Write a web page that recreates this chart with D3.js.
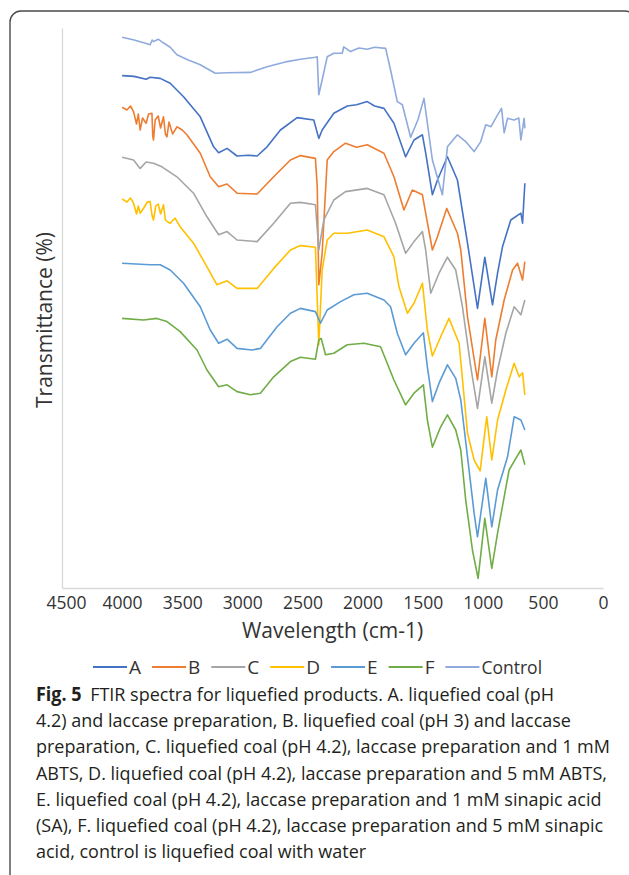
<!DOCTYPE html>
<html>
<head>
<meta charset="utf-8">
<script src="https://cdn.jsdelivr.net/npm/d3@7"></script>
<style>
    body { margin: 0; background: #fff; }
    #chart { width: 629px; height: 875px; }
</style>
</head>
<body>
<div id="chart"></div>
<script>
// [wavenumber (cm-1), transmittance as plotted (curves stacked with offsets)]
const seriesA = [[4000,128.1],[3900,127.9],[3800,127.2],[3767,127.7],[3683,127.4],[3600,126.2],[3489,122.8],[3350,117.8],[3239,110.3],[3197,108.8],[3127,109.9],[3044,108.0],[2950,108.2],[2877,108.0],[2794,110.3],[2683,114.5],[2544,117.6],[2406,117.0],[2364,112.4],[2336,114.5],[2239,118.7],[2127,120.5],[2050,120.8],[1961,121.6],[1900,120.5],[1822,119.9],[1739,116.2],[1642,107.8],[1572,112.0],[1502,113.3],[1475,108.8],[1419,98.3],[1377,102.0],[1294,107.8],[1211,102.0],[1127,86.2],[1044,69.9],[983,82.7],[919,70.8],[877,78.7],[836,85.3],[767,92.0],[683,93.7],[669,91.2],[650,101.2]];
const seriesB = [[4000,120.2],[3960,119.5],[3930,120.5],[3905,119.1],[3880,116.0],[3865,118.5],[3850,114.5],[3830,117.5],[3800,116.2],[3780,118.5],[3752,118.7],[3745,113.0],[3739,112.0],[3725,117.0],[3700,118.0],[3680,115.0],[3656,117.8],[3640,113.5],[3627,112.8],[3610,116.5],[3580,113.5],[3544,115.3],[3500,114.5],[3461,113.3],[3350,108.7],[3267,102.8],[3197,100.3],[3127,101.0],[3044,98.7],[2877,98.5],[2739,102.8],[2600,107.0],[2517,108.1],[2392,107.4],[2377,100.3],[2364,75.8],[2336,83.7],[2294,107.0],[2239,109.1],[2142,111.2],[2050,110.2],[1961,110.8],[1822,108.7],[1739,102.8],[1656,94.5],[1586,99.5],[1502,98.3],[1475,93.7],[1419,84.5],[1377,87.8],[1300,94.9],[1211,88.7],[1183,84.5],[1127,67.8],[1044,52.0],[983,67.4],[925,52.8],[892,62.0],[822,72.0],[752,79.5],[711,81.2],[669,77.0],[650,81.6]];
const seriesC = [[4000,107.7],[3905,107.0],[3850,104.9],[3800,106.5],[3739,106.2],[3669,105.3],[3544,102.8],[3406,98.7],[3294,92.8],[3197,88.3],[3127,89.1],[3044,87.0],[2877,86.6],[2739,91.2],[2600,96.2],[2517,96.4],[2392,95.8],[2364,84.5],[2322,92.0],[2239,97.0],[2142,99.1],[1961,99.9],[1822,98.3],[1725,91.2],[1642,83.7],[1572,86.6],[1502,89.1],[1475,84.5],[1433,73.7],[1364,78.7],[1294,82.7],[1225,79.5],[1169,70.3],[1100,55.3],[1044,44.9],[983,57.8],[925,46.2],[877,54.5],[808,63.7],[739,70.3],[683,68.3],[650,72.0]];
const seriesD = [[4000,97.3],[3960,96.5],[3930,97.5],[3905,96.2],[3880,93.5],[3865,95.5],[3850,93.7],[3820,95.0],[3790,96.5],[3767,96.6],[3750,93.0],[3739,92.0],[3720,95.5],[3700,96.0],[3680,93.5],[3656,95.8],[3640,92.0],[3620,91.5],[3600,91.2],[3560,92.5],[3517,90.3],[3406,86.2],[3294,80.3],[3211,75.8],[3127,76.8],[3044,74.9],[2877,74.9],[2739,79.9],[2600,84.5],[2517,85.6],[2392,85.2],[2364,60.8],[2336,79.5],[2294,87.0],[2239,88.7],[2127,88.7],[1961,89.5],[1822,87.8],[1739,82.8],[1697,75.3],[1627,68.7],[1572,71.2],[1502,76.2],[1461,64.5],[1419,58.0],[1350,62.8],[1281,67.4],[1197,61.2],[1127,38.7],[1072,32.0],[1022,29.3],[967,42.8],[925,32.0],[877,42.0],[808,49.5],[739,56.2],[697,52.8],[669,53.8],[650,48.3]];
const seriesE = [[4000,81.2],[3767,80.8],[3683,80.8],[3600,79.5],[3489,76.2],[3350,70.3],[3267,64.5],[3197,61.2],[3127,62.2],[3044,59.9],[2919,59.5],[2850,59.9],[2711,65.3],[2600,68.7],[2517,69.9],[2392,69.1],[2350,66.2],[2294,69.5],[2183,71.6],[2072,73.3],[1961,73.7],[1822,72.0],[1767,70.3],[1711,63.7],[1642,58.3],[1572,61.2],[1494,63.8],[1461,55.3],[1419,46.6],[1364,51.2],[1294,55.8],[1225,52.4],[1183,47.0],[1127,32.8],[1072,18.7],[1044,12.8],[975,27.4],[925,15.3],[877,24.5],[794,32.8],[739,42.8],[683,42.0],[650,39.5]];
const seriesF = [[4000,67.4],[3822,67.0],[3711,67.4],[3627,66.6],[3517,64.1],[3377,59.5],[3294,54.5],[3197,50.3],[3127,50.8],[3044,49.1],[2933,48.3],[2850,48.7],[2739,52.8],[2600,56.6],[2517,57.7],[2392,57.2],[2364,62.0],[2344,62.4],[2308,58.3],[2239,58.7],[2127,60.8],[1989,61.2],[1850,60.3],[1739,52.0],[1642,45.8],[1572,48.7],[1494,50.8],[1461,42.0],[1419,35.2],[1350,40.3],[1294,43.3],[1225,39.5],[1183,34.5],[1142,22.0],[1086,9.5],[1039,2.4],[983,17.4],[925,4.9],[877,13.7],[822,22.8],[781,29.5],[725,32.4],[683,34.5],[650,30.8]];
const seriesControl = [[4000,137.7],[3900,137.0],[3820,136.3],[3767,135.8],[3750,137.0],[3739,136.6],[3700,137.2],[3658,136.3],[3600,135.2],[3544,133.3],[3450,132.0],[3350,130.8],[3225,128.7],[3127,128.8],[2933,128.9],[2794,130.3],[2627,131.6],[2517,132.2],[2392,132.7],[2377,132.8],[2364,123.3],[2336,127.0],[2294,132.8],[2239,133.7],[2169,133.7],[2156,135.3],[2100,134.1],[2030,135.0],[1961,134.7],[1900,135.2],[1808,134.9],[1767,129.5],[1711,121.6],[1669,120.8],[1600,112.7],[1540,117.0],[1489,122.4],[1419,107.0],[1336,98.3],[1294,110.3],[1211,113.3],[1142,111.6],[1072,109.1],[1017,111.6],[975,115.8],[933,115.3],[877,118.3],[844,119.9],[822,113.8],[794,117.4],[739,117.0],[700,117.5],[683,112.0],[656,117.4],[650,114.9]];

const seriesNames = ['A', 'B', 'C', 'D', 'E', 'F', 'Control'];
const seriesValues = [seriesA, seriesB, seriesC, seriesD, seriesE, seriesF, seriesControl];
const seriesColors = ['#4472C4', '#ED7D31', '#A5A5A5', '#FFC000', '#5B9BD5', '#70AD47', '#8FAADC'];
const xTicks = [4500, 4000, 3500, 3000, 2500, 2000, 1500, 1000, 500, 0];

const xTitle = 'Wavelength (cm-1)';
const yTitle = 'Transmittance (%)';
const captionLabel = 'Fig. 5';
const captionLines = [
    'FTIR spectra for liquefied products. A. liquefied coal (pH',
    '4.2) and laccase preparation, B. liquefied coal (pH 3) and laccase',
    'preparation, C. liquefied coal (pH 4.2), laccase preparation and 1 mM',
    'ABTS, D. liquefied coal (pH 4.2), laccase preparation and 5 mM ABTS,',
    'E. liquefied coal (pH 4.2), laccase preparation and 1 mM sinapic acid',
    '(SA), F. liquefied coal (pH 4.2), laccase preparation and 5 mM sinapic',
    'acid, control is liquefied coal with water'
];

const width = 629, height = 875;
const font = '"Open Sans", "Noto Sans", sans-serif';

const svg = d3.select('#chart').append('svg')
    .attr('width', width)
    .attr('height', height);

// box round figure
svg.append('rect')
    .attr('x', 10)
    .attr('y', 11)
    .attr('width', 626)
    .attr('height', 900)
    .attr('rx', 11)
    .attr('fill', 'none')
    .attr('stroke', '#4a4a4a')
    .attr('stroke-width', 1.4);

const plot = {left: 62, right: 603, top: 28, bottom: 588};

const x = d3.scaleLinear()
    .domain([4500, 0])
    .range([plot.left, plot.right]);

const y = d3.scaleLinear()
    .domain([0, 140])
    .range([plot.bottom, plot.top]);

// axes
const xAxis = d3.axisBottom(x)
    .tickValues(xTicks)
    .tickSize(0)
    .tickPadding(9)
    .tickFormat(d3.format('d'));

const xAxisG = svg.append('g')
    .attr('transform', `translate(0,${plot.bottom})`)
    .call(xAxis);
xAxisG.select('.domain').attr('stroke', '#d9d9d9').attr('stroke-width', 1.3);
xAxisG.selectAll('text')
    .attr('fill', '#333')
    .style('font-family', font)
    .style('font-size', '17.5px');
// first label sits a bit to the right like the original
xAxisG.selectAll('.tick').filter(d => d === 4500).select('text').attr('dx', 4);

const yAxisG = svg.append('g')
    .attr('transform', `translate(${plot.left},0)`)
    .call(d3.axisLeft(y).tickValues([]).tickSize(0));
yAxisG.select('.domain').attr('stroke', '#d9d9d9').attr('stroke-width', 1.3);

svg.append('text')
    .attr('x', (plot.left + plot.right) / 2)
    .attr('y', 638)
    .attr('text-anchor', 'middle')
    .attr('fill', '#333')
    .style('font-family', font)
    .style('font-size', '21px')
    .text(xTitle);

svg.append('text')
    .attr('transform', 'translate(52,320) rotate(-90)')
    .attr('text-anchor', 'middle')
    .attr('fill', '#333')
    .style('font-family', font)
    .style('font-size', '21px')
    .text(yTitle);

// spectra
const line = d3.line()
    .x(d => x(d[0]))
    .y(d => y(d[1]));

svg.append('g').attr('class', 'series')
    .selectAll('path')
    .data(seriesValues)
    .join('path')
    .attr('d', line)
    .attr('fill', 'none')
    .attr('stroke', (_, i) => seriesColors[i])
    .attr('stroke-width', 1.6)
    .attr('stroke-linejoin', 'round');

// legend
const legend = svg.append('g').attr('transform', 'translate(0,667)');
let lx = 93;
seriesNames.forEach((name, i) => {
    const g = legend.append('g').attr('transform', `translate(${lx},0)`);
    g.append('line')
        .attr('x1', 0).attr('x2', 34)
        .attr('stroke', seriesColors[i])
        .attr('stroke-width', 2.2);
    const t = g.append('text')
        .attr('x', 36)
        .attr('y', 6.5)
        .attr('fill', '#333')
        .style('font-family', font)
        .style('font-size', i === 6 ? '17.5px' : '19px')
        .text(name);
    lx += 36 + t.node().getComputedTextLength() + 11;
});

// caption, squeezed horizontally so the widest line fits the box
const cap = svg.append('g').attr('class', 'caption');
const capLeft = 36, capRight = 610, capTop = 701, capStep = 26.2;
const capTexts = captionLines.map((s, i) => {
    const t = cap.append('text')
        .attr('x', 0)
        .attr('y', 0)
        .attr('fill', '#231f20')
        .style('font-family', font)
        .style('font-size', '19px');
    if (i === 0) {
        t.append('tspan').style('font-weight', '700').text(captionLabel);
        t.append('tspan').attr('dx', 9).text(s);
    } else {
        t.text(s);
    }
    return t;
});
const natural = capTexts.map((t, i) => t.node().getComputedTextLength() + (i === 0 ? 9 : 0));
const squeeze = Math.min(1, (capRight - capLeft) / d3.max(natural));
capTexts.forEach((t, i) => {
    t.attr('transform', `translate(${capLeft},${capTop + i * capStep}) scale(${squeeze},1)`);
});
</script>
</body>
</html>
